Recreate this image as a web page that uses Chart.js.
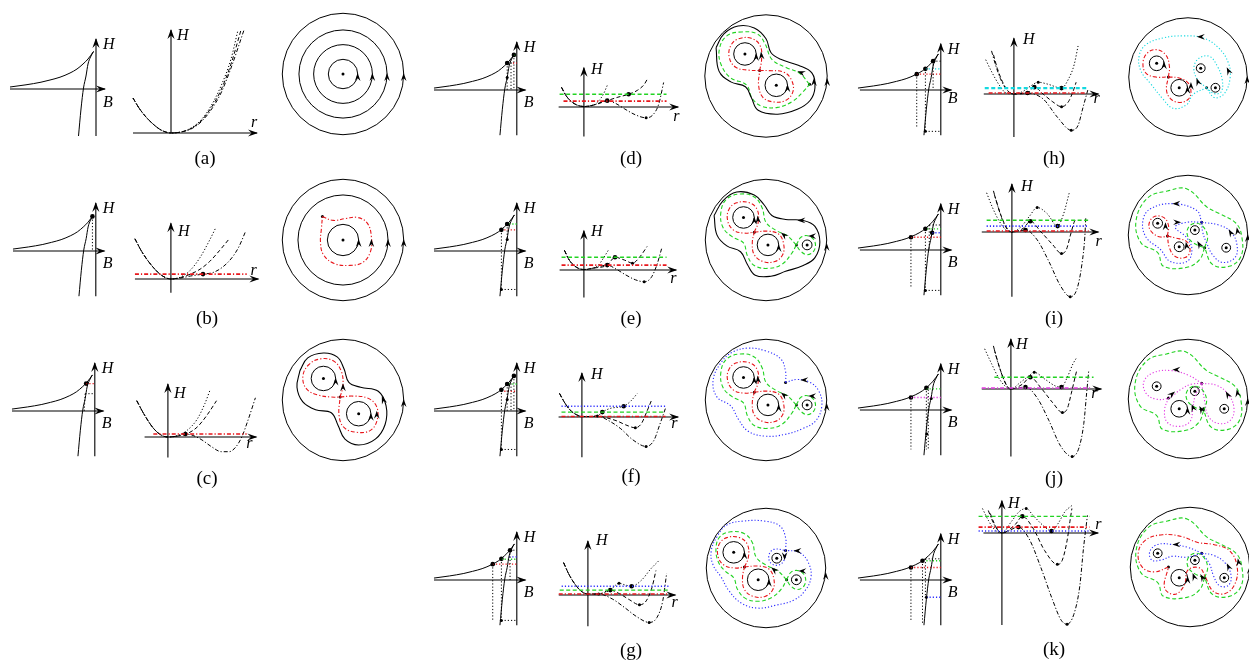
<!DOCTYPE html>
<html>
<head>
<meta charset="utf-8">
<title>H(B), H(r) and phase portraits</title>
<script src="https://cdn.jsdelivr.net/npm/chart.js@4.4.1/dist/chart.umd.min.js"></script>
<style>
  html, body { margin: 0; padding: 0; background: #fff; }
  body { position: relative; width: 1249px; height: 663px; overflow: hidden; }
  canvas { position: absolute; }
  .tag { position: absolute; font: 19px "Liberation Serif", serif; color: #000; transform: translate(-50%, -50%); white-space: nowrap; }
</style>
</head>
<body>
<script>
// ---------- look ----------
const UNIT = 10; // px per data unit in every small plot
const DASH = { solid: [], dot: [1.2, 2], dash: [4, 2.5], dashdot: [4, 2, 1.2, 2] };
const PALETTE = { black: '#000', red: '#e8161b', green: '#22d322', blue: '#2d2dff', cyan: '#14d9e0', magenta: '#e33be3' };
const LEVEL_STYLE = { red: ['dashdot', 1.6], green: ['dash', 1.3], blue: ['dot', 1.6], cyan: ['dash', 2.2], magenta: ['dashdot', 1.5] };
const PHASE_STYLE = { black: 'solid', red: 'dashdot', green: 'dash', blue: 'dot', cyan: 'dot', magenta: 'dot' };

// ---------- H(B) branch, same in every panel ----------
const hbUpper = [[-8.6,0.2],[-7,0.42],[-5.5,0.68],[-4.6,0.9],[-3.6,1.18],[-2.6,1.6],[-1.9,2.0],[-1.3,2.5],[-0.8,3.0],[-0.25,3.75]];
const hbLower = [[-0.25,3.75],[-0.55,3.2],[-0.8,2.5],[-1.0,1.3],[-1.25,0.1],[-1.5,-2.0],[-1.75,-4.7]];
const hbAxesL = [[-8.6,0,0.9,0],[0,-4.7,0,5.0]];
const hbAxesR = [[-8.4,0,1.1,0],[0,-4.7,0,4.8]];

// marked states on the H(B) plots: big dots, small dots, dotted guides, coloured levels [H, from B, orbit]
const hbB_big = [[-0.35,3.6]];
const hbB_guides = [[-0.35,3.6,-0.35,0],[-0.35,3.6,0,3.6]];
const hbC_big = [[-0.9,2.85]];
const hbC_guides = [[-1.0,1.8,0,1.8],[-1.0,1.8,-1.1,0]];
const hbC_levels = [[2.85,-0.9,'red']];
const hbD_big = [[-1.0,2.8],[-0.3,3.65]];
const hbD_small = [[-1.0,1.3]];
const hbD_guides = [[-1.0,2.8,-1.0,0],[-0.6,3.2,-0.6,0],[-0.3,3.65,-0.3,0],[-1.0,2.8,-0.4,2.8]];
const hbD_levels = [[2.8,-0.4,'red'],[3.65,-0.3,'green']];
const hbE_big = [[-1.6,2.2],[-1.0,2.8]];
const hbE_small = [[-1.0,1.2],[-1.6,-4.0]];
const hbE_guides = [[-1.6,2.2,-1.6,-4.0],[-1.6,-4.0,0,-4.0],[-1.0,2.8,-1.0,1.2]];
const hbE_levels = [[2.2,-1.3,'red'],[2.8,-0.8,'green']];
const hbF_big = [[-1.6,2.2],[-1.0,2.8],[-0.3,3.65]];
const hbF_small = [[-1.0,1.2],[-1.6,-4.0]];
const hbF_guides = [[-1.6,2.2,-1.6,-4.0],[-1.6,-4.0,0,-4.0],[-1.0,2.8,-1.0,0],[-0.6,3.2,-0.6,0],[-0.3,3.65,-0.3,0]];
const hbF_levels = [[2.05,-1.3,'red'],[2.8,-0.8,'green']];
const hbG_big = [[-2.5,1.65],[-1.6,2.2],[-0.7,3.1]];
const hbG_small = [[-1.6,-4.2]];
const hbG_guides = [[-2.5,1.65,-2.5,-4.2],[-1.6,2.2,-1.6,-4.2],[-1.6,-4.2,0,-4.2],[-0.7,3.1,-0.7,0],[-0.7,3.1,0,3.1]];
const hbG_levels = [[1.65,-2.5,'red'],[2.15,-1.6,'green'],[2.4,-0.8,'blue']];
const hbH_big = [[-2.5,1.65],[-1.6,2.2],[-0.8,3.0]];
const hbH_small = [[-1.6,-4.3]];
const hbH_guides = [[-2.5,1.65,-2.5,-4.0],[-1.6,2.2,-1.6,-4.3],[-1.6,-4.3,0,-4.3],[-0.8,3.0,-0.8,0],[-0.8,3.0,0,3.0]];
const hbH_levels = [[1.65,-2.5,'red'],[2.2,-1.6,'cyan']];
const hbI_big = [[-3.1,1.32],[-1.6,2.2],[-0.9,1.8]];
const hbI_small = [[-1.6,-4.2]];
const hbI_guides = [[-3.1,1.32,-3.1,-4.0],[-1.6,2.2,-1.6,-4.2],[-1.6,-4.2,0,-4.2],[-1.2,2.6,0,2.6],[-1.2,2.6,-1.2,0]];
const hbI_levels = [[1.32,-3.1,'red'],[2.2,-1.4,'green'],[1.8,-0.9,'blue']];
const hbJ_big = [[-3.1,1.3],[-1.5,2.3]];
const hbJ_small = [[-1.0,1.2],[-1.45,-2.5]];
const hbJ_guides = [[-3.1,1.3,-3.1,-4.1],[-1.5,2.3,-1.5,-4.1],[-1.3,2.45,-1.3,-4.1]];
const hbJ_levels = [[1.3,-3.1,'magenta'],[2.2,-1.5,'green']];
const hbK_big = [[-3.1,1.3],[-1.9,2.0]];
const hbK_small = [[-1.5,-1.8]];
const hbK_guides = [[-3.1,1.3,-3.1,-4.3],[-1.9,2.0,-1.9,-4.5],[-1.6,2.2,-1.6,-1.8],[-1.6,2.2,0,2.2]];
const hbK_levels = [[1.3,-3.1,'red'],[2.0,-1.5,'green'],[-1.8,-1.5,'blue']];

// ---------- H(r) curves ----------
const potA_left = [[-3.8,3.5],[-3.2,2.5],[-2.5,1.6],[-1.8,0.9],[-1,0.3],[0,0]];
const potA_dot = [...potA_left,[1,0.1],[2,0.5],[3,1.3],[4,2.7],[5,4.7],[6,7.4],[6.7,10.3]];
const potA_dash = [...potA_left,[1,0.1],[2,0.45],[3,1.2],[4,2.5],[5,4.3],[6,6.9],[7.0,10.3]];
const potA_dashdot = [...potA_left,[1,0.1],[2,0.4],[3,1.1],[4,2.3],[5,4.0],[6,6.5],[7.3,10.3]];

const potB_left = [[-3.7,4.1],[-3.0,2.8],[-2.0,1.4],[-1.0,0.4],[0,0]];
const potB_dot = [...potB_left,[1,0.2],[2,0.9],[3,2.2],[4,4.0],[4.6,5.2]];
const potB_dash = [...potB_left,[1,0.15],[2,0.5],[3,1.0],[4,1.8],[5,2.9],[6,4.1]];
const potB_dashdot = [...potB_left,[1,0.1],[2,0.3],[3.3,0.5],[4.3,0.65],[5.3,1.2],[6.3,2.2],[7.0,3.3],[7.7,4.9]];
const potB_levels = [[0.5,-3.7,7.8,'red']];
const potB_big = [[3.3,0.5]];

const potC_left = [[-3.2,3.7],[-2.5,2.4],[-1.5,0.9],[-0.7,0.2],[0,0]];
const potC_dot = [...potC_left,[1,0.15],[2,0.7],[3,1.8],[3.8,3.4],[4.3,4.7]];
const potC_dash = [...potC_left,[1,0.1],[2,0.35],[3,1.0],[4,2.2],[5,3.7]];
const potC_dashdot = [...potC_left,[1,0.1],[1.8,0.3],[2.6,0.15],[3.5,-0.3],[4.5,-1.0],[5.5,-1.5],[6.3,-1.5],[7.0,-1.0],[7.6,0],[8.2,1.6],[9.0,4.0]];
const potC_levels = [[0.3,-1.5,8.1,'red']];
const potC_big = [[1.8,0.3]];

const potD_left = [[-2.3,2.0],[-1.8,1.1],[-1.0,0.35],[0,0.05],[1,0.2]];
const potD_dot = [...potD_left,[1.5,0.6],[2.0,1.3],[2.4,2.2]];
const potD_dash = [...potD_left,[2.4,0.65],[3.5,1.0],[4.6,1.3],[5.5,1.7],[6.2,2.3],[6.5,2.8]];
const potD_dashdot = [...potD_left,[2.4,0.65],[3.2,0.4],[4.2,-0.2],[5.3,-0.8],[6.4,-1.1],[7.1,-0.8],[7.7,0.3],[8.2,2.5]];
const potD_levels = [[1.3,-2.5,8.5,'green'],[0.6,-2.1,8.5,'red']];
const potD_big = [[2.4,0.65],[4.6,1.3]];
const potD_small = [[6.4,-1.1]];

const potE_left = [[-2.0,2.0],[-1.5,1.0],[-0.8,0.3],[0,0.05],[1,0.2]];
const potE_dot = [...potE_left,[1.5,0.5],[2.0,1.2],[2.5,2.0]];
const potE_dash = [...potE_left,[2.4,0.5],[3.2,1.3],[4.2,1.0],[5.0,0.7],[5.8,1.4],[6.5,2.4]];
const potE_dashdot = [...potE_left,[2.4,0.5],[3.3,0.1],[4.3,-0.5],[5.3,-1.0],[6.2,-1.2],[6.9,-0.8],[7.5,0.5],[8.0,2.2]];
const potE_levels = [[1.3,-2.3,8.5,'green'],[0.5,-2.3,8.5,'red']];
const potE_big = [[2.4,0.5],[3.2,1.3]];
const potE_small = [[5.0,0.7],[6.2,-1.2]];

const potF_left = [[-2.3,2.4],[-1.8,1.5],[-1.2,0.7],[-0.5,0.2],[0,0.05],[0.8,0.05],[1.6,0.1]];
const potF_dot = [...potF_left,[2.1,0.5],[3.0,0.9],[4.3,1.1],[5.0,1.6],[5.7,2.4]];
const potF_dash = [...potF_left,[2.6,-0.1],[3.6,-0.4],[4.5,-0.8],[5.5,-1.1],[6.1,-0.7],[6.7,0.6],[7.2,1.8]];
const potF_dashdot = [...potF_left,[2.8,-0.4],[4.0,-1.2],[5.2,-2.3],[6.6,-3.0],[7.4,-2.4],[8.0,-0.8],[8.6,0.9]];
const potF_levels = [[1.1,-2.1,8.7,'blue'],[0.5,-2.1,8.6,'green'],[0.05,-2.1,8.6,'red']];
const potF_big = [[2.1,0.5],[4.3,1.1]];
const potF_small = [[1.6,0.1],[5.5,-1.1],[6.6,-3.0]];

const potG_left = [[-2.5,3.3],[-2.0,2.2],[-1.4,1.2],[-0.7,0.4],[0,0.1],[1.1,0.1]];
const potG_dot = [...potG_left,[2.3,0.5],[3.2,1.2],[3.9,1.0],[4.5,0.9],[5.5,1.5],[6.5,2.7],[7.3,3.5]];
const potG_dash = [...potG_left,[2.3,0.5],[3.3,0.1],[4.3,-0.5],[5.3,-1.0],[6.0,-0.6],[6.6,0.8],[7.0,2.5]];
const potG_dashdot = [...potG_left,[2.5,-0.4],[3.8,-1.3],[5.0,-2.2],[6.3,-2.8],[7.1,-2.3],[7.7,-0.6],[8.1,2.2]];
const potG_levels = [[0.9,-2.7,8.3,'blue'],[0.5,-2.9,8.3,'green'],[0.1,-3.0,8.3,'red']];
const potG_big = [[2.3,0.5],[4.5,0.9]];
const potG_small = [[1.1,0.1],[3.2,1.2],[5.3,-1.0],[6.3,-2.8]];

const potH_dot = [[-2.9,3.5],[-2.2,2.1],[-1.5,0.9],[-0.8,0.1],[0,0],[1.0,0.3],[1.7,0.8],[2.5,1.2],[3.5,1.0],[4.9,0.6],[5.6,1.5],[6.2,3.0],[6.6,4.9]];
const potH_dash = [[-2.1,4.0],[-1.7,2.6],[-1.2,1.3],[-0.6,0.3],[0,0],[1.4,0.1],[2.1,0.7],[3.0,0.0],[4.0,-0.8],[4.9,-1.3],[5.6,-0.8],[6.1,0.3],[6.4,1.2]];
const potH_dashdot = [[-2.3,4.4],[-1.9,3.0],[-1.4,1.6],[-0.8,0.5],[0,0],[1.4,0.1],[3.0,-0.5],[4.5,-2.4],[5.9,-3.7],[6.6,-3.2],[7.1,-1.4],[7.6,0.4]];
const potH_levels = [[0.6,-3.0,7.7,'cyan'],[0.1,-2.6,7.5,'red']];
const potH_big = [[1.4,0.1],[2.1,0.7],[4.9,0.6]];
const potH_small = [[2.5,1.2],[4.9,-1.3],[5.9,-3.7]];

const potI_dot = [[-2.6,4.0],[-2.0,2.5],[-1.3,1.1],[-0.6,0.2],[0,0],[1.0,0.6],[1.8,1.6],[2.6,2.5],[3.6,1.9],[4.7,0.6],[5.3,1.8],[5.9,4.0]];
const potI_dash = [[-1.8,3.8],[-1.3,2.2],[-0.8,0.9],[-0.3,0.15],[0,0],[1.2,0.4],[1.9,1.1],[3.0,0.0],[4.2,-1.3],[5.1,-2.2],[5.6,-1.8],[6.0,-0.4],[6.4,1.0],[6.6,1.4]];
const potI_dashdot = [[-1.9,4.2],[-1.5,2.8],[-1.0,1.3],[-0.5,0.3],[0,0],[1.4,0.2],[2.6,-0.8],[3.8,-3.0],[5.0,-5.5],[6.0,-6.6],[6.7,-5.8],[7.2,-3.3],[7.5,-0.5],[7.6,1.5]];
const potI_levels = [[1.2,-2.6,7.9,'green'],[0.6,-2.6,7.9,'blue'],[0.1,-2.6,7.9,'red']];
const potI_big = [[1.4,0.2],[1.9,1.1],[4.7,0.6]];
const potI_small = [[2.6,2.5],[5.1,-2.2],[6.0,-6.6]];

const potJ_dot = [[-2.7,4.1],[-2.0,2.6],[-1.3,1.2],[-0.6,0.3],[0,0],[1.0,0.7],[1.8,1.3],[2.4,1.7],[3.5,1.0],[4.6,0.3],[5.2,0.2],[5.8,1.2],[6.4,2.6],[6.7,3.1]];
const potJ_dash = [[-1.7,4.0],[-1.2,2.3],[-0.7,0.9],[-0.3,0.15],[0,0],[1.2,0.5],[2.0,1.2],[3.1,0.1],[4.3,-1.4],[5.3,-2.4],[5.8,-2.0],[6.2,-0.5],[6.6,1.2],[6.8,2.0]];
const potJ_dashdot = [[-1.8,4.4],[-1.4,2.9],[-0.9,1.4],[-0.4,0.3],[0,0],[1.5,0.2],[2.7,-0.9],[3.9,-3.2],[5.1,-5.8],[6.3,-6.9],[7.0,-6.0],[7.5,-3.5],[7.8,-0.3],[8.0,1.8]];
const potJ_levels = [[1.2,-1.7,8.5,'green'],[0.1,-3.0,8.3,'magenta']];
const potJ_big = [[1.5,0.2],[2.0,1.2],[5.2,0.2]];
const potJ_small = [[2.4,1.7],[5.3,-2.4],[6.3,-6.9]];

const potK_dot = [[-2.0,2.5],[-1.4,1.3],[-0.8,0.4],[0,0],[1.0,1.2],[1.8,2.2],[2.5,2.5],[3.2,1.8],[4.2,0.8],[5.1,0.2],[5.8,1.0],[6.5,2.2],[7.2,2.8]];
const potK_dash = [[-1.2,2.0],[-0.8,1.0],[-0.4,0.3],[0,0],[1.4,0.9],[2.1,1.7],[3.2,0.5],[4.4,-1.8],[5.7,-3.2],[6.2,-2.8],[6.7,-0.8],[7.0,1.2],[7.2,2.5]];
const potK_dashdot = [[-1.4,2.3],[-1.0,1.3],[-0.5,0.4],[0,0],[1.7,0.6],[2.8,-0.6],[4.0,-3.5],[5.2,-6.8],[6.1,-8.9],[6.7,-9.3],[7.4,-8.3],[8.0,-5.5],[8.4,-1.5],[8.8,1.8]];
const potK_levels = [[1.7,-2.4,9.0,'green'],[0.6,-2.4,9.0,'red'],[0.2,-2.4,9.0,'blue']];
const potK_big = [[1.7,0.6],[2.1,1.7],[5.1,0.2]];
const potK_small = [[2.5,2.5],[5.7,-3.2],[6.7,-9.3]];

// axis extents of the H(r) plots: [r from, r to], [H from, H to]
const potA_axes = [[-3.8,8.6],[0,10.3]];
const potB_axes = [[-3.7,9.0],[-1.4,5.7]];
const potC_axes = [[-2.4,9.1],[-2.1,5.4]];
const potD_axes = [[-2.6,9.7],[-3.0,4.0]];
const potE_axes = [[-2.5,9.5],[-2.8,4.0]];
const potF_axes = [[-2.4,9.9],[-4.1,4.5]];
const potG_axes = [[-3.0,9.0],[-3.2,5.5]];
const potH_axes = [[-3.1,8.7],[-4.4,5.7]];
const potI_axes = [[-3.1,8.9],[-6.6,4.9]];
const potJ_axes = [[-3.0,9.3],[-6.9,5.1]];
const potK_axes = [[-1.9,9.9],[-9.4,3.3]];

// ---------- phase portraits (disc of radius ~6.2) ----------
const circA = [[0,0,1.5],[0,0,3.0],[0,0,4.5],[0,0,6.2]];
const arrowsA = [[1.5,0,90],[3.0,0,90],[4.5,0,90],[6.2,0,90]];
const dotsA = [[0,0]];

const circB = [[0,0,1.6],[0,0,4.6],[0,0,6.2]];
const redB = [[-2.1,2.4],[-1.0,2.0],[0.3,2.2],[1.5,2.3],[2.5,1.7],[2.9,0.3],[2.8,-1.2],[2.0,-2.3],[0.6,-2.6],[-0.9,-2.4],[-2.0,-1.5],[-2.3,-0.2],[-2.2,1.2],[-2.1,2.4]];
const arrowsB = [[1.6,0,90],[2.9,0,90],[4.6,0,90],[6.2,0,90]];
const dotsB = [[0,0],[-2.1,2.4]];

const circC = [[-2.0,2.2,1.25],[1.6,-1.4,1.25],[0,0,6.2]];
const redC_up = [[-0.3,0.3],[0.0,1.5],[-0.2,3.0],[-1.0,4.0],[-2.3,4.2],[-3.5,3.6],[-4.1,2.4],[-3.7,1.1],[-2.5,0.5],[-1.2,0.3],[-0.3,0.3]];
const redC_low = [[-0.3,0.3],[1.0,0.4],[2.5,0.2],[3.4,-0.6],[3.5,-2.0],[2.8,-3.1],[1.4,-3.3],[0.1,-2.8],[-0.4,-1.6],[-0.3,0.3]];
const blackC = [[-4.4,3.0],[-3.6,4.3],[-2.0,4.8],[-0.6,4.4],[0.1,3.2],[0.6,1.8],[1.8,1.3],[3.6,0.9],[4.4,-0.6],[4.3,-2.5],[3.3,-4.0],[1.6,-4.6],[0.2,-4.0],[-0.5,-2.6],[-1.2,-1.3],[-2.8,-1.0],[-4.1,-0.2],[-4.7,1.3],[-4.4,3.0]];
const arrowsC = [[-0.75,2.2,90],[2.85,-1.4,90],[0.0,1.6,90],[3.45,-1.2,90],[4.0,0.3,110],[6.2,0,90]];
const dotsC = [[-2.0,2.2],[1.6,-1.4],[-0.3,0.3]];

const circD = [[-2.15,2.25,1.15],[1.05,-0.95,1.15],[0,0,6.25]];
const redD_up = [[-0.65,0.55],[-0.45,1.7],[-0.6,3.1],[-1.5,3.85],[-2.8,3.8],[-3.6,3.1],[-3.75,1.9],[-3.1,0.9],[-1.8,0.6],[-0.65,0.55]];
const redD_low = [[-0.65,0.55],[0.3,0.55],[1.8,0.4],[2.6,-0.4],[2.75,-1.6],[2.0,-2.5],[0.8,-2.65],[-0.3,-2.2],[-0.75,-1.0],[-0.65,0.55]];
const greenD = [[4.45,-0.85],[3.4,0.3],[2.1,0.85],[0.6,1.7],[-0.1,3.3],[-0.9,4.3],[-2.5,4.5],[-4.0,4.1],[-4.75,2.8],[-4.6,1.2],[-3.6,-0.2],[-2.0,-0.9],[-1.4,-2.3],[-0.4,-3.1],[1.2,-3.2],[2.7,-2.6],[3.8,-1.6],[4.45,-0.85]];
const blackD = [[-5.1,2.9],[-4.3,4.3],[-2.85,5.1],[-1.2,4.9],[0.0,3.8],[0.5,2.4],[1.5,1.7],[3.3,1.1],[4.7,0.3],[5.0,-1.2],[4.5,-2.5],[3.2,-3.4],[1.2,-3.9],[-0.8,-3.5],[-1.5,-2.2],[-2.1,-1.1],[-3.6,-0.6],[-4.8,0.5],[-5.1,2.9]];
const arrowsD = [[-1.0,2.25,90],[2.2,-0.95,90],[-0.5,2.4,95],[3.3,0.45,160],[4.9,-0.3,90],[6.25,-0.3,90]];
const dotsD = [[-2.15,2.25],[1.05,-0.95],[-0.65,0.55],[4.45,-0.85]];

const circEF = [[-2.3,2.3,1.1],[0.2,-0.5,1.1],[4.2,-0.5,0.5],[0,0,6.2]];
const redE_up = [[-1.2,0.8],[-0.8,1.8],[-0.9,3.1],[-1.7,3.8],[-3.0,3.8],[-3.8,3.1],[-3.9,1.9],[-3.3,1.0],[-2.2,0.7],[-1.2,0.8]];
const redE_low = [[-1.2,0.8],[0.2,0.9],[1.3,0.6],[1.8,-0.4],[1.7,-1.5],[0.9,-2.2],[-0.3,-2.2],[-1.2,-1.5],[-1.4,-0.3],[-1.2,0.8]];
const greenE = [[3.1,-0.5],[2.2,0.4],[1.0,1.0],[0.0,1.8],[-0.4,3.3],[-1.2,4.4],[-2.6,4.7],[-4.0,4.2],[-4.6,2.9],[-4.4,1.3],[-3.4,0.3],[-2.3,-0.3],[-1.9,-1.6],[-1.2,-2.6],[0.2,-2.9],[1.6,-2.5],[2.6,-1.4],[3.1,-0.5]];
const greenE_small = [[3.1,-0.5],[3.6,0.3],[4.4,0.4],[5.0,-0.2],[4.9,-1.1],[4.2,-1.5],[3.5,-1.1],[3.1,-0.5]];
const blackE = [[-5.3,2.5],[-4.4,4.0],[-3.0,4.9],[-1.2,4.6],[-0.2,3.6],[0.6,2.5],[2.0,2.1],[3.8,2.0],[5.0,1.4],[5.5,-0.2],[5.0,-1.8],[3.8,-2.6],[2.0,-3.2],[0.5,-3.7],[-1.1,-3.6],[-1.9,-2.5],[-2.6,-1.2],[-4.0,-0.6],[-5.0,0.5],[-5.3,2.5]];
const blueF = [[2.0,1.8],[2.0,2.9],[1.5,4.2],[0.0,5.0],[-1.8,5.3],[-3.4,4.9],[-4.6,3.8],[-5.4,2.0],[-5.0,0.3],[-3.6,-0.6],[-2.8,-2.0],[-1.8,-3.2],[0.0,-3.7],[2.0,-3.5],[3.8,-2.9],[5.1,-2.1],[5.7,-0.6],[5.4,0.9],[4.5,1.8],[3.2,2.1],[2.0,1.8]];
const arrowsE = [[-1.2,2.3,90],[1.3,-0.5,90],[-0.85,2.4,95],[1.6,0.7,140],[3.3,2.0,180],[4.4,0.4,180],[6.2,-0.4,90]];
const arrowsF = [[-1.2,2.3,90],[1.3,-0.5,90],[-0.85,2.4,95],[1.6,0.7,140],[3.6,2.05,180],[4.4,0.4,180],[6.2,-0.4,90]];
const dotsE = [[-2.3,2.3],[0.2,-0.5],[4.2,-0.5],[-1.2,0.8],[3.1,-0.5]];
const dotsF = [[-2.3,2.3],[0.2,-0.5],[4.2,-0.5],[-1.2,0.8],[3.1,-0.5],[2.0,1.8]];

const circG = [[-2.3,2.3,1.1],[0.2,-0.5,1.1],[4.1,-0.5,0.5],[2.1,1.7,0.5],[1.0,0.7,6.1]];
const greenG = [[3.1,-0.5],[2.2,0.4],[1.0,1.0],[0.0,1.8],[-0.4,3.3],[-1.2,4.2],[-2.6,4.4],[-3.7,3.9],[-4.1,2.8],[-3.9,1.4],[-3.2,0.4],[-2.3,-0.3],[-1.9,-1.5],[-1.1,-2.4],[0.2,-2.7],[1.6,-2.3],[2.6,-1.4],[3.1,-0.5]];
const blueG = [[3.0,2.5],[3.0,3.8],[2.4,5.0],[0.8,5.5],[-1.2,5.5],[-3.0,5.1],[-4.0,3.9],[-4.6,2.4],[-4.4,1.0],[-3.6,-0.2],[-2.8,-1.6],[-1.5,-2.9],[0.2,-3.4],[2.0,-3.1],[3.8,-2.6],[5.0,-1.6],[5.6,-0.2],[5.3,1.3],[4.4,2.3],[3.0,2.5]];
const blueG_small = [[3.0,2.5],[2.9,1.6],[2.3,1.0],[1.5,1.2],[1.3,2.0],[1.8,2.6],[3.0,2.5]];
const arrowsG = [[-1.2,2.3,90],[1.3,-0.5,90],[1.6,0.7,140],[4.4,0.4,180],[3.9,2.45,180],[2.9,1.6,-90],[7.1,0.2,90]];
const dotsG = [[-2.3,2.3],[0.2,-0.5],[4.1,-0.5],[2.1,1.7],[-1.2,0.8],[3.1,-0.5],[3.0,2.5]];

const circH = [[-2.3,2.3,0.75],[0,-0.2,0.85],[2.2,1.8,0.45],[3.7,-0.2,0.45],[0.9,0.9,6.05]];
const redS_up = [[-1.1,0.9],[-1.0,2.0],[-1.4,3.2],[-2.4,3.7],[-3.3,3.3],[-3.7,2.3],[-3.4,1.3],[-2.4,0.9],[-1.1,0.9]];
const redS_low = [[-1.1,0.9],[0.0,0.8],[0.9,0.3],[1.2,-0.6],[0.9,-1.4],[0.0,-1.7],[-0.9,-1.3],[-1.3,-0.4],[-1.1,0.9]];
const cyanH = [[2.8,-0.2],[1.4,-0.9],[0.8,-1.9],[-0.6,-2.3],[-1.7,-1.3],[-2.9,0.2],[-3.9,1.5],[-4.1,3.0],[-3.4,4.2],[-1.6,4.9],[0.4,5.1],[2.4,4.9],[4.0,3.9],[5.0,2.4],[5.2,0.8],[4.6,-0.8],[3.6,-1.2],[2.8,-0.2]];
const cyanH_small = [[2.8,-0.2],[1.9,0.6],[1.5,1.8],[2.0,2.8],[3.1,3.0],[3.9,2.0],[4.4,0.6],[4.3,-0.6],[3.6,-0.8],[2.8,-0.2]];
const arrowsH = [[-1.55,2.4,90],[0.85,-0.1,90],[1.2,0.3,90],[1.8,0.7,110],[1.9,5.0,180],[4.9,1.8,115],[6.95,0.9,90]];
const dotsH = [[-2.3,2.3],[0,-0.2],[2.2,1.8],[3.7,-0.2],[-1.1,0.9],[2.8,-0.2]];

const circI = [[-2.3,2.3,0.5],[-0.1,-0.1,0.5],[1.5,1.6,0.45],[4.7,-0.2,0.45],[0.8,1.1,6.1]];
const redI_up = [[-1.3,1.0],[-1.2,2.1],[-1.7,2.9],[-2.7,2.95],[-3.2,2.1],[-2.8,1.3],[-2.0,0.9],[-1.3,1.0]];
const redI_low = [[-1.3,1.0],[-0.5,0.8],[0.7,0.4],[1.0,-0.6],[0.5,-1.2],[-0.5,-1.1],[-1.1,-0.2],[-1.3,1.0]];
const blueI = [[2.2,2.4],[1.7,3.6],[-0.7,4.3],[-3.0,3.8],[-3.8,2.6],[-3.5,0.9],[-2.0,-0.4],[-1.0,-1.6],[0.7,-1.6],[1.2,-0.4],[0.7,0.8],[-0.5,1.9],[0.7,2.4],[2.2,2.4]];
const blueI_right = [[2.2,2.4],[4.0,2.1],[5.2,1.4],[5.8,0.1],[5.6,-1.2],[4.3,-1.7],[3.3,-0.9],[2.7,0.3],[2.3,1.4],[2.2,2.4]];
const greenIK = [[2.5,-0.2],[2.0,-1.4],[0.7,-2.2],[-1.7,-2.1],[-2.3,-0.7],[-4.0,0.3],[-4.5,2.6],[-3.3,4.9],[-1.3,5.6],[0.7,5.8],[2.8,3.9],[4.0,3.3],[5.7,2.3],[6.3,0.9],[6.2,-1.1],[5.0,-2.1],[3.3,-1.9],[2.5,-0.2]];
const greenIK_small = [[2.5,-0.2],[2.8,0.9],[2.3,2.0],[1.5,2.3],[0.8,1.8],[0.8,0.9],[1.5,0.2],[2.5,-0.2]];
const arrowsI = [[-1.5,2.3,90],[-0.7,4.3,180],[0.0,2.4,0],[0.6,0.3,100],[1.8,0.4,120],[5.0,1.6,120],[5.8,1.8,100],[6.9,1.1,90]];
const dotsI = [[-2.3,2.3],[-0.1,-0.1],[1.5,1.6],[4.7,-0.2],[-1.3,1.0],[2.2,2.4],[2.5,-0.2]];

const circJ = [[-2.3,2.3,0.45],[0,0,0.85],[1.6,1.8,0.45],[4.6,0,0.45],[0.9,1.0,6.1]];
const magJ_top = [[2.3,2.6],[1.0,3.4],[-0.8,3.9],[-2.6,3.7],[-3.6,2.8],[-3.4,1.6],[-2.4,1.0],[-1.1,1.1],[0.2,2.0],[1.2,2.5],[2.3,2.6]];
const magJ_low = [[-1.1,1.1],[-1.5,-0.2],[-1.2,-1.4],[0.0,-1.8],[1.1,-1.3],[1.4,0.0],[1.6,1.2],[2.3,2.6]];
const magJ_right = [[2.3,2.6],[3.8,2.4],[5.0,1.5],[5.6,0.0],[5.2,-1.2],[4.0,-1.5],[3.0,-0.8],[2.6,0.8],[2.3,2.6]];
const arrowsJ = [[0.85,0.1,90],[-0.6,4.0,180],[-0.5,1.7,40],[4.8,1.7,120],[1.3,0.4,110],[2.1,0.2,120],[5.9,1.9,100],[7.0,1.0,90]];
const dotsJ = [[-2.3,2.3],[0,0],[1.6,1.8],[4.6,0],[-1.1,1.1],[2.3,2.6],[2.5,0]];

const circK = [[-2.3,2.3,0.45],[-0.1,-0.2,0.85],[1.5,1.6,0.45],[4.5,-0.2,0.45],[1.0,0.9,6.1]];
const redK = [[-1.2,0.9],[-2.6,0.4],[-3.8,0.8],[-4.3,2.2],[-3.6,3.6],[-1.8,4.2],[0.2,4.0],[1.8,3.4],[3.4,3.2],[5.0,2.6],[5.8,1.0],[5.6,-0.8],[4.6,-1.8],[3.4,-1.6],[2.6,-0.2],[2.0,0.8],[0.8,0.6],[0.4,-1.0],[-0.6,-1.9],[-1.6,-1.2],[-1.2,0.9]];
const blueK_left = [[2.2,2.3],[0.8,2.9],[-0.8,3.2],[-2.3,3.2],[-3.1,2.5],[-2.9,1.6],[-2.0,1.6],[-0.8,2.0],[0.6,1.9],[2.2,2.3]];
const blueK_right = [[2.2,2.3],[3.4,2.1],[4.6,1.3],[5.2,0.0],[4.9,-1.0],[4.0,-1.0],[3.4,0.0],[3.0,1.2],[2.2,2.3]];
const arrowsK = [[0.75,-0.1,90],[-0.7,3.2,180],[1.3,0.2,110],[2.1,0.1,120],[4.8,1.2,115],[5.9,1.7,100],[7.1,0.9,90]];
const dotsK = [[-2.3,2.3],[-0.1,-0.2],[1.5,1.6],[4.5,-0.2],[-1.2,0.9],[2.2,2.3],[2.5,-0.2]];

// ---------- helpers ----------
function head(ctx, x, y, ang, len, half) {
  ctx.save();
  ctx.translate(x, y);
  ctx.rotate(ang);
  ctx.beginPath();
  ctx.moveTo(1, 0);
  ctx.lineTo(-len, -half);
  ctx.lineTo(-len * 0.6, 0);
  ctx.lineTo(-len, half);
  ctx.closePath();
  ctx.fill();
  ctx.restore();
}

// axes with arrowheads, circles, flow arrows and axis letters, all placed through the chart scales
function decorate(cfg) {
  return {
    id: 'decor',
    beforeDatasetsDraw(chart) {
      const { ctx, scales: { x, y } } = chart;
      ctx.save();
      ctx.strokeStyle = '#000';
      ctx.fillStyle = '#000';
      ctx.lineWidth = 1;
      (cfg.circles || []).forEach(([cx, cy, r]) => {
        const px = x.getPixelForValue(cx), py = y.getPixelForValue(cy);
        const pr = x.getPixelForValue(cx + r) - px;
        ctx.beginPath();
        ctx.arc(px, py, pr, 0, Math.PI * 2);
        ctx.stroke();
      });
      (cfg.axes || []).forEach(([x0, y0, x1, y1]) => {
        const a = x.getPixelForValue(x0), b = y.getPixelForValue(y0);
        const c = x.getPixelForValue(x1), d = y.getPixelForValue(y1);
        ctx.lineWidth = 1.1;
        ctx.beginPath();
        ctx.moveTo(a, b);
        ctx.lineTo(c, d);
        ctx.stroke();
        head(ctx, c, d, Math.atan2(d - b, c - a), 9, 3.6);
      });
      ctx.restore();
    },
    afterDatasetsDraw(chart) {
      const { ctx, scales: { x, y } } = chart;
      ctx.save();
      ctx.fillStyle = '#000';
      (cfg.arrows || []).forEach(([ax, ay, deg]) => {
        head(ctx, x.getPixelForValue(ax), y.getPixelForValue(ay), -deg * Math.PI / 180, 7, 2.8);
      });
      ctx.font = 'italic 16px "Liberation Serif", serif';
      ctx.textBaseline = 'alphabetic';
      ctx.textAlign = 'left';
      (cfg.labels || []).forEach(([t, lx, ly, dx, dy]) => {
        ctx.fillText(t, x.getPixelForValue(lx) + dx, y.getPixelForValue(ly) + dy);
      });
      ctx.restore();
    }
  };
}

// tension: number for closed loops, 'mono' for graphs of a function
function curve(pts, style, color, width, tension) {
  const ds = {
    data: pts.map(p => ({ x: p[0], y: p[1] })),
    showLine: true,
    fill: false,
    borderColor: color || '#000',
    borderWidth: width || 1,
    borderDash: DASH[style],
    borderCapStyle: 'butt',
    pointRadius: 0,
    pointHoverRadius: 0
  };
  if (tension === 'mono') ds.cubicInterpolationMode = 'monotone';
  else ds.tension = tension === undefined ? 0.35 : tension;
  return ds;
}

function marks(pts, r) {
  return {
    data: (pts || []).map(p => ({ x: p[0], y: p[1] })),
    showLine: false,
    pointRadius: r,
    pointHoverRadius: r,
    pointBackgroundColor: '#000',
    pointBorderColor: '#000',
    pointBorderWidth: 0
  };
}

function plot(left, top, w, h, ox, oy, datasets, deco) {
  const cv = document.createElement('canvas');
  cv.width = w;
  cv.height = h;
  cv.style.left = left + 'px';
  cv.style.top = top + 'px';
  cv.style.width = w + 'px';
  cv.style.height = h + 'px';
  document.body.appendChild(cv);
  return new Chart(cv, {
    type: 'scatter',
    data: { datasets },
    options: {
      responsive: false,
      animation: false,
      devicePixelRatio: 1,
      events: [],
      layout: { padding: 0 },
      plugins: { legend: { display: false }, tooltip: { enabled: false } },
      scales: {
        x: { type: 'linear', display: false, min: (left - ox) / UNIT, max: (left + w - ox) / UNIT },
        y: { type: 'linear', display: false, min: (oy - top - h) / UNIT, max: (oy - top) / UNIT }
      }
    },
    plugins: [decorate(deco)]
  });
}

// H(B) plot, origin at page (ox, oy)
function hbPanel(ox, oy, axes, big, small, guides, levels, bDy) {
  const ds = [curve(hbUpper, 'solid', '#000', 1, 'mono'), curve(hbLower, 'solid', '#000', 1, 'mono')];
  (guides || []).forEach(g => ds.push(curve([[g[0], g[1]], [g[2], g[3]]], 'dot', '#000', 1, 0)));
  (levels || []).forEach(l => ds.push(curve([[l[1], l[0]], [0, l[0]]], 'dot', PALETTE[l[2]], 1.4, 0)));
  ds.push(marks(big, 2.3), marks(small, 1.5));
  plot(ox - 95, oy - 60, 125, 120, ox, oy, ds, {
    axes,
    labels: [['H', 0, axes[1][3], 7, 10], ['B', 0, 0, 7, bDy]]
  });
}

// H(r) plot
function potPanel(ox, oy, ax, dotC, dashC, dashdotC, levels, big, small, lab) {
  const ds = [];
  (levels || []).forEach(l => {
    const s = LEVEL_STYLE[l[3]];
    ds.push(curve([[l[1], l[0]], [l[2], l[0]]], s[0], PALETTE[l[3]], s[1], 0));
  });
  ds.push(curve(dotC, 'dot', '#000', 1, 'mono'), curve(dashC, 'dash', '#000', 1, 'mono'), curve(dashdotC, 'dashdot', '#000', 1, 'mono'));
  ds.push(marks(big, 2.3), marks(small, 1.5));
  plot(ox - 50, oy - 115, 165, 230, ox, oy, ds, {
    axes: [[ax[0][0], 0, ax[0][1], 0], [0, ax[1][0], 0, ax[1][1]]],
    labels: [['H', 0, ax[1][1], lab[0], lab[1]], ['r', ax[0][1], 0, lab[2], lab[3]]]
  });
}

// phase portrait, disc centred at page (cx, cy), data frame origin at page (fx, fy)
function phasePanel(cx, cy, fx, fy, circles, lines, dots, arrows) {
  const ds = lines.map(([pts, fam]) => curve(pts, PHASE_STYLE[fam], PALETTE[fam], 1.1, 0.4));
  ds.push(marks(dots, 1.5));
  plot(cx - 72, cy - 72, 144, 144, fx, fy, ds, { circles, arrows });
}

function tag(text, x, y) {
  const d = document.createElement('div');
  d.className = 'tag';
  d.textContent = text;
  d.style.left = x + 'px';
  d.style.top = y + 'px';
  document.body.appendChild(d);
}

// ---------- column 1 ----------
hbPanel(96, 89, hbAxesL, [], [], [], [], 18);
potPanel(171, 133, potA_axes, potA_dot, potA_dash, potA_dashdot, [], [], [], [6, 10, -6, -6]);
phasePanel(343, 74, 343, 74, circA, [], dotsA, arrowsA);
tag('(a)', 205, 158);

hbPanel(97, 251, hbAxesL, hbB_big, [], hbB_guides, [], 17);
potPanel(170, 279, potB_axes, potB_dot, potB_dash, potB_dashdot, potB_levels, potB_big, [], [7, 13, -8, -4]);
phasePanel(343, 240, 343, 240, circB, [[redB, 'red']], dotsB, arrowsB);
tag('(b)', 207, 318);

hbPanel(96, 411, hbAxesL, hbC_big, [], hbC_guides, hbC_levels, 17);
potPanel(167, 437, potC_axes, potC_dot, potC_dash, potC_dashdot, potC_levels, potC_big, [], [6, 14, -10, 11]);
phasePanel(343, 400, 343, 400, circC, [[blackC, 'black'], [redC_up, 'red'], [redC_low, 'red']], dotsC, arrowsC);
tag('(c)', 207, 478);

// ---------- column 2 ----------
hbPanel(518, 90, hbAxesL, hbD_big, hbD_small, hbD_guides, hbD_levels, 17);
potPanel(583, 107, potD_axes, potD_dot, potD_dash, potD_dashdot, potD_levels, potD_big, potD_small, [7, 6, -5, 14]);
phasePanel(765.5, 75.5, 765.5, 75.5, circD, [[blackD, 'black'], [greenD, 'green'], [redD_up, 'red'], [redD_low, 'red']], dotsD, arrowsD);
tag('(d)', 631, 158);

hbPanel(518, 251, hbAxesL, hbE_big, hbE_small, hbE_guides, hbE_levels, 17);
potPanel(583, 270, potE_axes, potE_dot, potE_dash, potE_dashdot, potE_levels, potE_big, potE_small, [7, 5, -6, 13]);
phasePanel(766, 240, 766, 240, circEF, [[blackE, 'black'], [greenE, 'green'], [greenE_small, 'green'], [redE_up, 'red'], [redE_low, 'red']], dotsE, arrowsE);
tag('(e)', 631, 318);

hbPanel(518, 411, hbAxesL, hbF_big, hbF_small, hbF_guides, hbF_levels, 17);
potPanel(581, 417, potF_axes, potF_dot, potF_dash, potF_dashdot, potF_levels, potF_big, potF_small, [9, 6, -7, 11]);
phasePanel(766, 400, 766, 400, circEF, [[blueF, 'blue'], [greenE, 'green'], [greenE_small, 'green'], [redE_up, 'red'], [redE_low, 'red']], dotsF, arrowsF);
tag('(f)', 631, 476);

hbPanel(518, 580, hbAxesL, hbG_big, hbG_small, hbG_guides, hbG_levels, 17);
potPanel(587, 595, potG_axes, potG_dot, potG_dash, potG_dashdot, potG_levels, potG_big, potG_small, [8, 4, -4, 12]);
phasePanel(766, 568, 756, 575, circG, [[blueG, 'blue'], [blueG_small, 'blue'], [greenG, 'green'], [greenE_small, 'green'], [redE_up, 'red'], [redE_low, 'red']], dotsG, arrowsG);
tag('(g)', 631, 650);

// ---------- column 3 ----------
hbPanel(942, 90, hbAxesR, hbH_big, hbH_small, hbH_guides, hbH_levels, 13);
potPanel(1013, 94, potH_axes, potH_dot, potH_dash, potH_dashdot, potH_levels, potH_big, potH_small, [9, 6, -5, 9]);
phasePanel(1188, 77, 1179, 86, circH, [[cyanH, 'cyan'], [cyanH_small, 'cyan'], [redS_up, 'red'], [redS_low, 'red']], dotsH, arrowsH);
tag('(h)', 1054, 158);

hbPanel(942, 250, hbAxesR, hbI_big, hbI_small, hbI_guides, hbI_levels, 17);
potPanel(1011, 232, potI_axes, potI_dot, potI_dash, potI_dashdot, potI_levels, potI_big, potI_small, [9, 7, -3, 14]);
phasePanel(1188, 235, 1180, 246, circI, [[greenIK, 'green'], [greenIK_small, 'green'], [blueI, 'blue'], [blueI_right, 'blue'], [redI_up, 'red'], [redI_low, 'red']], dotsI, arrowsI);
tag('(i)', 1054, 318);

hbPanel(942, 410, hbAxesR, hbJ_big, hbJ_small, hbJ_guides, hbJ_levels, 17);
potPanel(1010, 389, potJ_axes, potJ_dot, potJ_dash, potJ_dashdot, potJ_levels, potJ_big, potJ_small, [5, 10, -10, 9]);
phasePanel(1188, 399, 1179, 409, circJ, [[greenIK, 'green'], [greenIK_small, 'green'], [magJ_top, 'magenta'], [magJ_low, 'magenta'], [magJ_right, 'magenta']], dotsJ, arrowsJ);
tag('(j)', 1054, 478);

hbPanel(942, 580, hbAxesR, hbK_big, hbK_small, hbK_guides, hbK_levels, 17);
potPanel(1001, 533, potK_axes, potK_dot, potK_dash, potK_dashdot, potK_levels, potK_big, potK_small, [6, 7, -3, -4]);
phasePanel(1190, 567, 1180, 576, circK, [[greenIK, 'green'], [greenIK_small, 'green'], [redK, 'red'], [blueK_left, 'blue'], [blueK_right, 'blue']], dotsK, arrowsK);
tag('(k)', 1054, 649);
</script>
</body>
</html>
